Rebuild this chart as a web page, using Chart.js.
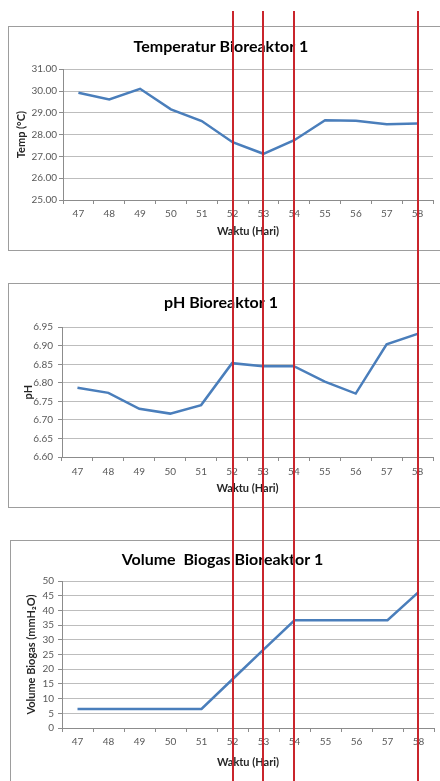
<!DOCTYPE html>
<html>
<head>
<meta charset="utf-8">
<script src="https://cdn.jsdelivr.net/npm/chart.js@4/dist/chart.umd.min.js"></script>
<style>
    body { margin: 0; background: #fff; width: 440px; height: 781px; overflow: hidden; position: relative; }
    .chart-box { position: absolute; border: 1px solid #9d9d9d; background: #fff; }
    .chart-box canvas { display: block; }
    .marker-line { position: absolute; width: 2px; background: #c9252c; }
</style>
</head>
<body>
<div class="chart-box" id="box-temp" style="left:8px; top:26px;"><canvas id="tempChart" width="432" height="223"></canvas></div>
<div class="chart-box" id="box-ph" style="left:8px; top:283px;"><canvas id="phChart" width="432" height="223"></canvas></div>
<div class="chart-box" id="box-gas" style="left:10px; top:540px;"><canvas id="gasChart" width="430" height="242"></canvas></div>

<script>
// Data
const days = ['47', '48', '49', '50', '51', '52', '53', '54', '55', '56', '57', '58'];
const temperature = [29.92, 29.61, 30.1, 29.16, 28.62, 27.65, 27.12, 27.74, 28.66, 28.63, 28.48, 28.51];
const phValues = [6.787, 6.773, 6.730, 6.717, 6.740, 6.853, 6.845, 6.845, 6.803, 6.771, 6.904, 6.932];
const biogasVolume = [6.5, 6.5, 6.5, 6.5, 6.5, 16.6, 26.7, 36.7, 36.7, 36.7, 36.7, 46.3];
const markedDays = ['52', '53', '54', '58'];

document.addEventListener('DOMContentLoaded', function() {
    Chart.defaults.font.family = 'Lato, "Open Sans", sans-serif';
    Chart.defaults.animation = false;

    const lineBlue = '#4a7ebb';
    const gridGray = '#bdbdbd';
    const axisGray = '#8c8c8c';

    /**
     * Build one Excel-style line chart
     */
    function makeLineChart(canvasId, cfg) {
        const ctx = document.getElementById(canvasId).getContext('2d');
        return new Chart(ctx, {
            type: 'line',
            data: {
                labels: days,
                datasets: [{
                    data: cfg.values,
                    borderColor: lineBlue,
                    borderWidth: 2.5,
                    pointRadius: 0,
                    tension: 0,
                    fill: false
                }]
            },
            options: {
                responsive: false,
                layout: { padding: { left: 0, right: cfg.rightPad, top: 0, bottom: 0 } },
                plugins: {
                    legend: { display: false },
                    tooltip: { enabled: false },
                    title: {
                        display: true,
                        text: cfg.title,
                        color: '#000',
                        font: { size: 16, weight: 'bold' },
                        padding: cfg.titlePad
                    }
                },
                scales: {
                    x: {
                        offset: true,
                        afterFit: function(scale) { scale.height = cfg.xHeight; },
                        grid: { drawOnChartArea: false, drawTicks: true, tickLength: 4, color: axisGray, offset: true },
                        border: { color: axisGray },
                        ticks: { color: '#595959', font: { size: 10 }, padding: cfg.xTickPad, maxRotation: 0, autoSkip: false },
                        title: {
                            display: true,
                            text: 'Waktu (Hari)',
                            color: '#262626',
                            font: { size: 11, weight: 'bold' },
                            padding: { top: 0, bottom: cfg.xTitlePad }
                        }
                    },
                    y: {
                        min: cfg.min,
                        max: cfg.max,
                        afterFit: function(scale) { scale.width = cfg.yWidth; },
                        grid: { color: gridGray, tickColor: axisGray, tickLength: 4 },
                        border: { color: axisGray },
                        ticks: {
                            stepSize: cfg.step,
                            autoSkip: false,
                            color: '#595959',
                            font: { size: 10 },
                            padding: cfg.yTickPad,
                            callback: function(value) { return value.toFixed(cfg.decimals); }
                        },
                        title: {
                            display: true,
                            text: cfg.yTitle,
                            color: '#262626',
                            font: { size: 11, weight: 'bold' },
                            padding: { top: cfg.yTitlePad, bottom: 0 }
                        }
                    }
                }
            }
        });
    }

    const tempChart = makeLineChart('tempChart', {
        title: 'Temperatur Bioreaktor 1',
        yTitle: 'Temp (°C)',
        values: temperature,
        min: 25, max: 31, step: 1, decimals: 2,
        rightPad: 8, yWidth: 54, xHeight: 50,
        titlePad: { top: 10, bottom: 13 },
        xTickPad: 4, xTitlePad: 12, yTickPad: 2, yTitlePad: 6
    });

    makeLineChart('phChart', {
        title: 'pH Bioreaktor 1',
        yTitle: 'pH',
        values: phValues,
        min: 6.6, max: 6.95, step: 0.05, decimals: 2,
        rightPad: 8, yWidth: 53, xHeight: 50,
        titlePad: { top: 9, bottom: 15 },
        xTickPad: 5, xTitlePad: 12, yTickPad: 5, yTitlePad: 13
    });

    makeLineChart('gasChart', {
        title: 'Volume  Biogas Bioreaktor 1',
        yTitle: 'Volume Biogas (mmH₂O)',
        values: biogasVolume,
        min: 0, max: 50, step: 5, decimals: 0,
        rightPad: 7, yWidth: 51, xHeight: 55,
        titlePad: { top: 9, bottom: 12 },
        xTickPad: 4, xTitlePad: 14, yTickPad: 4, yTitlePad: 14
    });

    // Red marker lines across the whole page, placed on the day positions of the top chart
    const box = document.getElementById('box-temp');
    const xScale = tempChart.scales.x;
    markedDays.forEach(day => {
        const px = box.offsetLeft + 1 + xScale.getPixelForValue(days.indexOf(day));
        const line = document.createElement('div');
        line.className = 'marker-line';
        line.style.left = (px - 1) + 'px';
        line.style.top = '11px';
        line.style.height = '770px';
        document.body.appendChild(line);
    });
});
</script>
</body>
</html>
